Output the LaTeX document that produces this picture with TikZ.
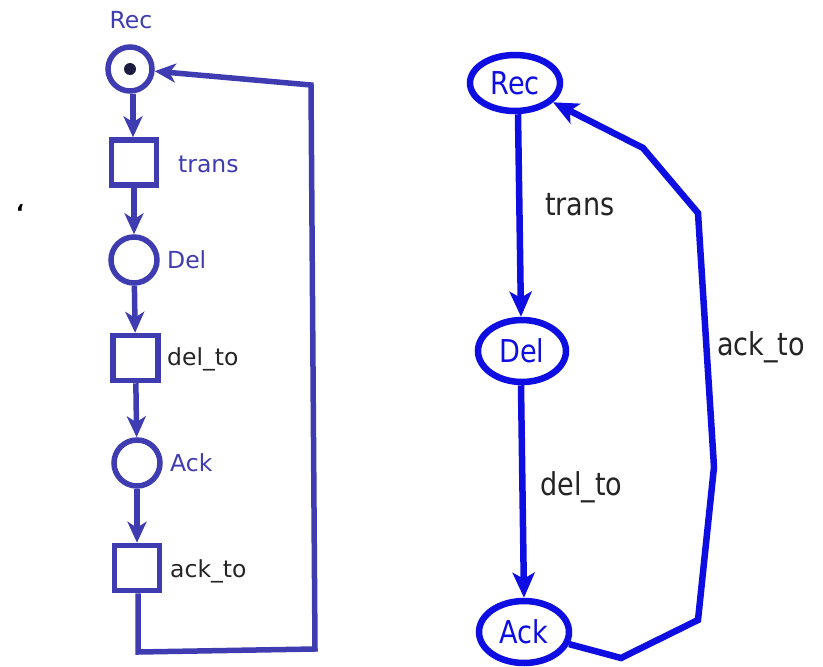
\documentclass[tikz,border=0pt]{standalone}
\usepackage{fontspec}
\setmainfont{DejaVu Sans}
\newfontfamily\narrowsans[FakeStretch=0.86]{DejaVu Sans}
\usetikzlibrary{arrows.meta,shapes.geometric}
\definecolor{lpur}{RGB}{62,60,176}
\definecolor{rblue}{RGB}{14,14,226}
\definecolor{dtext}{RGB}{36,36,36}
\definecolor{tok}{RGB}{28,28,66}
\tikzset{
  lline/.style={draw=lpur,line width=5.5pt},
  rline/.style={draw=rblue,line width=6.5pt},
  larr/.style={lline,-{Stealth[length=21pt,width=19pt,inset=6pt]}},
  rarr/.style={rline,-{Stealth[length=25pt,width=22pt,inset=6pt]}},
  place/.style={circle,lline,fill=white,inner sep=0pt},
  transbox/.style={rectangle,lline,fill=white,inner sep=0pt,minimum size=45pt},
  state/.style={ellipse,rline,fill=white,inner sep=0pt,text=rblue,font=\narrowsans\fontsize{31.5}{34}\selectfont},
  llab/.style={anchor=base west,inner sep=0pt,font=\fontsize{23.5}{26}\selectfont},
  rlab/.style={anchor=base west,inner sep=0pt,text=dtext,font=\narrowsans\fontsize{31.5}{34}\selectfont},
}
\begin{document}
\begin{tikzpicture}[x=1pt,y=-1pt]
\useasboundingbox (0,0) rectangle (823,667);
% ---------- left Petri net ----------
\node[place,minimum size=44pt] (pRec) at (130,69) {};
\node[circle,fill=tok,inner sep=0pt,minimum size=12pt] (tokn) at (130,69) {};
\node[transbox] (tTrans) at (134,162.5) {};
\node[place,minimum size=46pt] (pDel) at (134,260) {};
\node[transbox] (tDel) at (135.5,358) {};
\node[place,minimum size=46pt] (pAck) at (137,463) {};
\node[transbox] (tAck) at (137,568) {};

\node[llab,anchor=base,text=lpur] (lRec) at (131,28) {Rec};
\node[llab,text=lpur] (lTrans) at (178,172) {trans};
\node[llab,text=lpur] (lDel) at (167,268) {Del};
\node[llab,text=dtext] (lDelTo) at (167,365) {del\_to};
\node[llab,text=lpur] (lAck) at (170,471) {Ack};
\node[llab,text=dtext] (lAckTo) at (170,577) {ack\_to};

\draw[larr] (pRec.south -| 133,0) -- (tTrans.north -| 133,0);
\draw[larr] (tTrans) -- (pDel);
\draw[larr] (pDel) -- (tDel);
\draw[larr] (tDel) -- (pAck);
\draw[larr] (pAck) -- (tAck);
\coordinate (lb1) at (138,652);
\coordinate (lb2) at (315,649);
\coordinate (lb3) at (311,85);
\draw[larr,line join=miter] (tAck.south -| 138,0) -- (lb1) -- (lb2) -- (lb3) -- (pRec);

% stray mark
\node[inner sep=0pt,font=\fontsize{22}{22}\selectfont\bfseries] (mark) at (20,212) {‘};

% ---------- right state graph ----------
\node[state,minimum width=90pt,minimum height=56pt] (rRec) at (515,83) {Rec};
\node[state,minimum width=88pt,minimum height=62pt] (rDel) at (522,351) {Del};
\node[state,minimum width=90pt,minimum height=62pt] (rAck) at (524,632) {Ack};

\draw[rarr] (rRec.south -| 518,0) -- (rDel.north -| 521,0);
\draw[rarr] (rDel.south -| 521,0) -- (rAck.north -| 524,0);
\coordinate (r1) at (621,658);
\coordinate (r2) at (698,620);
\coordinate (r3) at (714,467);
\coordinate (r4) at (698,213);
\coordinate (r5) at (643,148);
\draw[rarr,line join=miter] (rAck) -- (r1) -- (r2) -- (r3) -- (r4) -- (r5) -- (rRec);

\node[rlab] (rtTrans) at (545,215) {trans};
\node[rlab] (rtDel) at (540,495) {del\_to};
\node[rlab] (rtAck) at (717,355) {ack\_to};
\end{tikzpicture}
\end{document}
